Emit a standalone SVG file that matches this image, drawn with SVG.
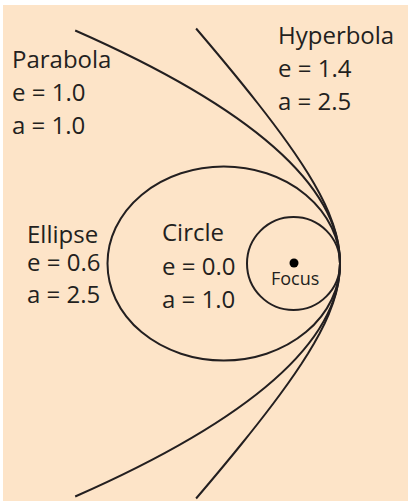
<svg xmlns="http://www.w3.org/2000/svg" width="408" height="501" viewBox="0 0 408 501">
<style>
.curve{fill:none;stroke:#231f20;stroke-width:2;stroke-linejoin:round;stroke-linecap:butt}
.lbl{font-family:"Open Sans","Noto Sans","Liberation Sans",sans-serif;font-size:24px;fill:#231f20}
.small{font-size:18px}
</style>
<rect x="0" y="0" width="408" height="501" fill="#ffffff"/>
<rect x="3" y="5" width="405" height="496" fill="#fde4c8"/>
<g id="parabola">
<path class="curve" d="M75.2,30.5 Q604.8,263.5 75.2,496.5"/>
<text class="lbl" x="12" y="68">Parabola</text>
<text class="lbl" x="12" y="101">e = 1.0</text>
<text class="lbl" x="12" y="134">a = 1.0</text>
</g>
<g id="hyperbola">
<path class="curve" d="M196.11,28.5 L208.82,43.5 L217.22,53.5 L225.54,63.5 L233.78,73.5 L241.92,83.5 L249.96,93.5 L257.88,103.5 L265.66,113.5 L273.28,123.5 L280.72,133.5 L287.95,143.5 L294.94,153.5 L301.64,163.5 L308.02,173.5 L314.01,183.5 L319.57,193.5 L324.61,203.5 L329.07,213.5 L332.87,223.5 L335.92,233.5 L338.16,243.5 L339.54,253.5 L340,263.5 L339.54,273.5 L338.16,283.5 L335.92,293.5 L332.87,303.5 L329.07,313.5 L324.61,323.5 L319.57,333.5 L314.01,343.5 L308.02,353.5 L301.64,363.5 L294.94,373.5 L287.95,383.5 L280.72,393.5 L273.28,403.5 L265.66,413.5 L257.88,423.5 L249.96,433.5 L241.92,443.5 L233.78,453.5 L225.54,463.5 L217.22,473.5 L208.82,483.5 L196.11,498.5"/>
<text class="lbl" x="278" y="44">Hyperbola</text>
<text class="lbl" x="278" y="77">e = 1.4</text>
<text class="lbl" x="278" y="110">a = 2.5</text>
</g>
<g id="ellipse">
<ellipse class="curve" cx="223.75" cy="263.5" rx="116.25" ry="97"/>
<text class="lbl" x="27" y="243">Ellipse</text>
<text class="lbl" x="27" y="271">e = 0.6</text>
<text class="lbl" x="27" y="303">a = 2.5</text>
</g>
<g id="circle">
<circle class="curve" cx="293.5" cy="263.5" r="46.5"/>
<text class="lbl" x="162" y="241">Circle</text>
<text class="lbl" x="162" y="275">e = 0.0</text>
<text class="lbl" x="162" y="308">a = 1.0</text>
</g>
<g id="focus">
<circle cx="294" cy="263" r="4.5" fill="#000000"/>
<text class="lbl small" x="271" y="285">Focus</text>
</g>
</svg>
